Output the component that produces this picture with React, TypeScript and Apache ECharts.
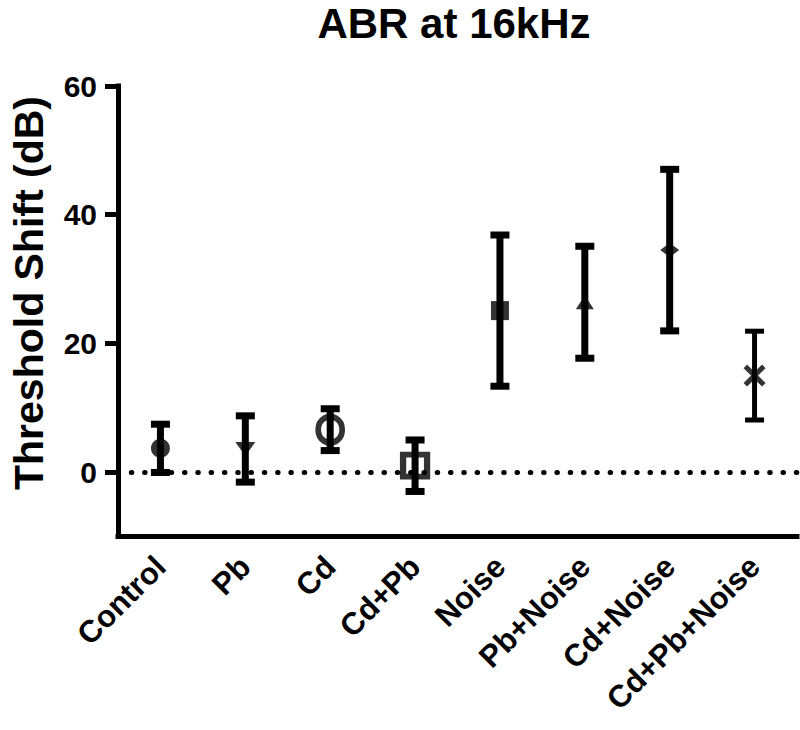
import React, { useEffect, useRef } from "react";
import * as echarts from "echarts";

const categories = ["Control", "Pb", "Cd", "Cd+Pb", "Noise", "Pb+Noise", "Cd+Noise", "Cd+Pb+Noise"];
const means = [3.7, 3.6, 6.6, 1.0, 25.1, 26.4, 34.5, 15.0];
const errors = [3.75, 5.15, 3.25, 4.0, 11.75, 8.7, 12.55, 6.9];
const yTicks = [0, 20, 40, 60];

const FONT = "'Liberation Sans', Arial, sans-serif";
const X_PATH =
  "path://M0,1.6 L1.6,0 L5,3.4 L8.4,0 L10,1.6 L6.6,5 L10,8.4 L8.4,10 L5,6.6 L1.6,10 L0,8.4 L3.4,5 Z";

// marker styles per group (presentation only)
const markerStyles: any[] = [
  { symbol: "circle", symbolSize: 19, itemStyle: { color: "#000" } },
  { symbol: "triangle", symbolSize: [20, 14], symbolRotate: 180, itemStyle: { color: "#000" } },
  { symbol: "circle", symbolSize: [24, 26], itemStyle: { color: "transparent", borderColor: "#000", borderWidth: 6 } },
  { symbol: "rect", symbolSize: [24, 22], itemStyle: { color: "transparent", borderColor: "#000", borderWidth: 6 } },
  { symbol: "rect", symbolSize: [18, 19], itemStyle: { color: "#000" } },
  { symbol: "triangle", symbolSize: [18, 14], itemStyle: { color: "#000" } },
  { symbol: "diamond", symbolSize: [19, 14], itemStyle: { color: "#000" } },
  { symbol: X_PATH, symbolSize: [22, 22], itemStyle: { color: "#000" } },
];
const barWidths = [7, 7, 7, 7, 7, 7, 7, 5];

export default function App() {
  const ref = useRef<HTMLDivElement>(null);
  useEffect(() => {
    if (!ref.current) return;
    const chart = echarts.init(ref.current, null, { renderer: "svg" });
    const errData = categories.map((_, i) => [i, means[i] - errors[i], means[i] + errors[i]]);
    const scatterData = categories.map((_, i) => ({ value: [i, means[i]], ...markerStyles[i] }));
    chart.setOption({
      animation: false,
      backgroundColor: "#fff",
      title: {
        text: "ABR at 16kHz",
        left: 454,
        top: 0,
        padding: 0,
        textAlign: "center",
        textStyle: { fontFamily: FONT, fontWeight: "bold", fontSize: 42, lineHeight: 47, color: "#000" },
      },
      grid: { left: 118, right: 3, top: 86, bottom: 193.5, containLabel: false },
      xAxis: {
        type: "category",
        data: categories,
        boundaryGap: true,
        axisLine: { onZero: false, lineStyle: { color: "#000", width: 5, cap: "square" } },
        axisTick: { alignWithLabel: true, length: 13, lineStyle: { color: "#000", width: 5 } },
        axisLabel: {
          rotate: 45,
          interval: 0,
          margin: 25,
          color: "#000",
          fontFamily: FONT,
          fontWeight: "bold",
          fontSize: 31,
        },
        splitLine: { show: false },
      },
      yAxis: {
        type: "value",
        min: -10,
        max: 60,
        axisLine: { show: true, lineStyle: { color: "#000", width: 5, cap: "square" } },
        axisTick: { show: true, length: 13, customValues: yTicks, lineStyle: { color: "#000", width: 5 } },
        axisLabel: {
          customValues: yTicks,
          margin: 21,
          color: "#000",
          fontFamily: FONT,
          fontWeight: "bold",
          fontSize: 30,
        },
        splitLine: { show: false },
      },
      graphic: [
        {
          type: "text",
          x: 29,
          y: 293,
          rotation: Math.PI / 2,
          style: {
            text: "Threshold Shift (dB)",
            fontFamily: FONT,
            fontWeight: "bold",
            fontSize: 41,
            fill: "#000",
            textAlign: "center",
            textVerticalAlign: "middle",
          },
        },
      ],
      series: [
        {
          type: "scatter",
          data: scatterData,
          z: 2,
          markLine: {
            silent: true,
            symbol: "none",
            label: { show: false },
            lineStyle: { color: "#000", width: 5, type: [0.5, 12.8], cap: "round" },
            data: [{ yAxis: 0 }],
          },
        },
        {
          type: "custom",
          z: 3,
          data: errData,
          renderItem: (params: any, api: any) => {
            const i = api.value(0);
            const lo = api.coord([i, api.value(1)]);
            const hi = api.coord([i, api.value(2)]);
            const w = barWidths[params.dataIndex];
            const half = 9.5;
            const style = { stroke: "#000", lineWidth: w };
            return {
              type: "group",
              children: [
                { type: "line", shape: { x1: lo[0], y1: lo[1], x2: hi[0], y2: hi[1] }, style },
                { type: "line", shape: { x1: hi[0] - half, y1: hi[1], x2: hi[0] + half, y2: hi[1] }, style },
                { type: "line", shape: { x1: lo[0] - half, y1: lo[1], x2: lo[0] + half, y2: lo[1] }, style },
              ],
            };
          },
        },
      ],
    });
    return () => chart.dispose();
  }, []);
  return <div ref={ref} style={{ position: "absolute", left: 0, top: 0, width: 800, height: 730 }} />;
}
